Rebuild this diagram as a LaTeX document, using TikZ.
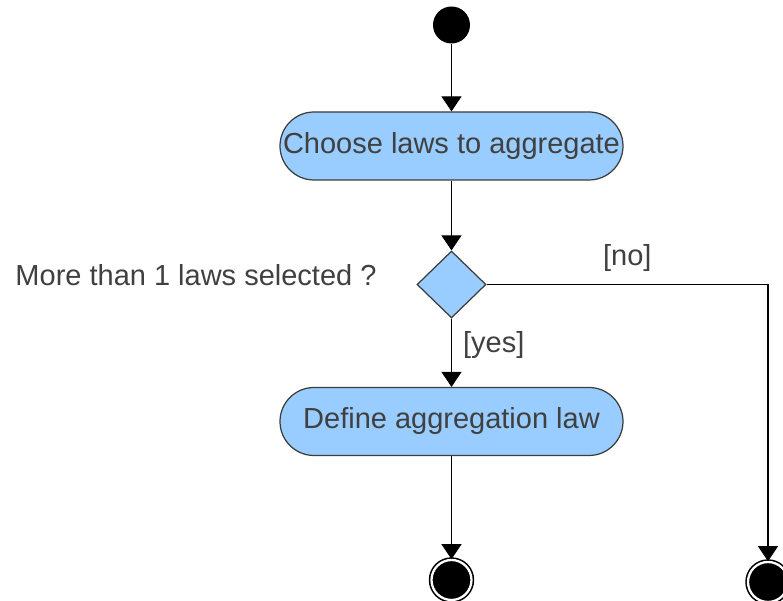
\documentclass[tikz,border=0pt]{standalone}
\usepackage{fontspec}
\setmainfont{Liberation Sans}
\usetikzlibrary{shapes.geometric,arrows.meta}
\definecolor{actblue}{HTML}{99CCFF}
\definecolor{txtgrey}{HTML}{404040}
\definecolor{linegrey}{HTML}{3C3C3C}

\begin{document}
\begin{tikzpicture}[
        font=\fontsize{16.5}{19}\selectfont,
        label text/.style={text=txtgrey},
        action/.style={draw=linegrey, fill=actblue, text=txtgrey, line width=0.7pt, rounded corners=0.68cm, minimum width=6.86cm, minimum height=1.36cm, inner sep=0pt},
        decision/.style={diamond, draw=linegrey, fill=actblue, line width=0.7pt, minimum width=1.38cm, minimum height=1.34cm, inner sep=0pt},
        initial/.style={circle, fill=black, minimum size=0.74cm, inner sep=0pt},
        final/.style={circle, fill=black, draw=black, double=white, double distance=1.3pt, line width=0.9pt, minimum size=0.8cm, inner sep=0pt},
        flow/.style={-{Triangle[length=0.3cm,width=0.4cm]}, line width=0.6pt},
    ]
        \useasboundingbox (0,0) rectangle (15.66,-12.02);

        %% debut
        \node [initial] (start) at (9.03,-0.5) {};

        %% actions
        \node [action] (choose) at (9.03,-2.92) {Choose laws to aggregate};
        \node [decision] (dec) at (9.03,-5.69) {};
        \node [label text] (ask) at (3.92,-5.5) {More than 1 laws selected ?};
        \node [action] (define) at (9.03,-8.43) {Define aggregation law};

        %% fins
        \node [final] (endyes) at (9.03,-11.6) {};
        \node [final] (endno) at (15.36,-11.64) {};

        %% fleches
        \draw [flow] (start) -- (choose);
        \draw [flow] (choose) -- (dec);
        \draw [flow] (dec) -- node [label text, right, pos=0.39, xshift=3pt] (yes) {[yes]} (define);
        \draw [flow] (define) -- (endyes);
        \draw [flow] (dec.east) -| node [label text, above, pos=0.25, yshift=4pt] (no) {[no]} (endno);

    \end{tikzpicture}
\end{document}
